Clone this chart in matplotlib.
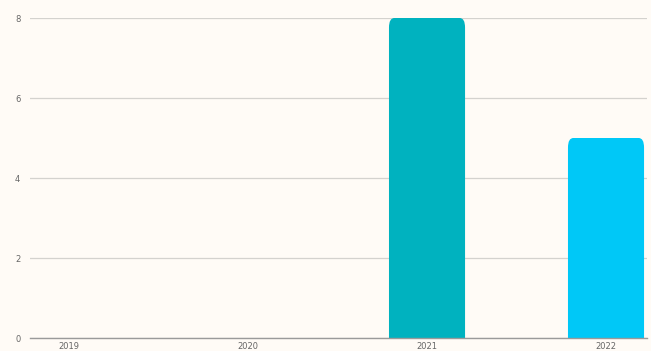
import matplotlib
matplotlib.use("Agg")
import matplotlib.pyplot as plt
from matplotlib.patches import FancyBboxPatch

years = ["2019", "2020", "2021", "2022"]
counts = [0, 0, 8, 5]
bar_colors = ["#00B2BF", "#00B2BF", "#00B2BF", "#00C8F7"]
y_ticks = [0, 2, 4, 6, 8]

bg = "#FFFBF6"
fig = plt.figure(figsize=(6.51, 3.51), dpi=100, facecolor=bg)
ax = fig.add_axes([30 / 651, 13 / 351, 617 / 651, 320 / 351], facecolor=bg)

x = list(range(len(years)))
bars = ax.bar(x, counts, width=0.425, color=bar_colors, zorder=3)

# swap the plain rectangles for ones with softly rounded tops;
# the shape starts below the baseline so only the top corners show rounding
for b in bars:
    h = b.get_height()
    b.set_visible(False)
    if h <= 0:
        continue
    patch = FancyBboxPatch((b.get_x(), -0.5), b.get_width(), h + 0.5,
                           boxstyle="round,pad=0,rounding_size=0.03",
                           mutation_aspect=8.0,
                           facecolor=b.get_facecolor(), edgecolor="none",
                           zorder=3)
    ax.add_patch(patch)

ax.set_xlim(-0.218, 3.229)
ax.set_ylim(0, 8)
ax.set_yticks(y_ticks)
ax.set_xticks(x)
ax.set_xticklabels(years)

ax.grid(axis="y", color="#D4D2CE", linewidth=0.9, zorder=0)
ax.grid(axis="x", visible=False)
for s in ["top", "right", "left"]:
    ax.spines[s].set_visible(False)
ax.spines["bottom"].set_color("#9A9A9A")
ax.spines["bottom"].set_linewidth(1.0)
ax.spines["bottom"].set_zorder(4)

ax.tick_params(axis="both", length=0, labelsize=6, labelcolor="#666666")
ax.tick_params(axis="y", pad=7)
ax.tick_params(axis="x", pad=3)

fig.savefig("out.png", dpi=100, facecolor=bg)
